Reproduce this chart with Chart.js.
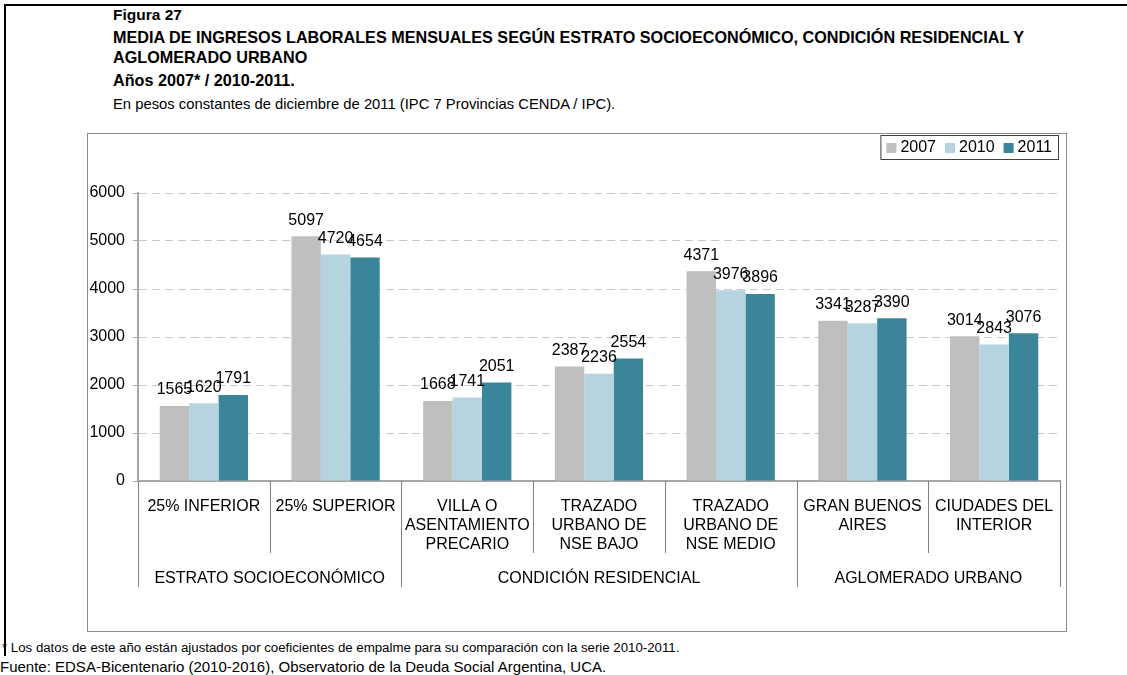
<!DOCTYPE html>
<html>
<head>
<meta charset="utf-8">
<script src="https://cdn.jsdelivr.net/npm/chart.js@4.4.0/dist/chart.umd.min.js"></script>
<style>
  body { margin: 0; background: #fff; font-family: "Liberation Sans", Arial, sans-serif; }
  #page { position: relative; width: 1127px; height: 675px; overflow: hidden; }
  #outline { position: absolute; left: 4px; top: 4px; width: 1200px; height: 650px;
             border-top: 2px solid #000; border-left: 2px solid #000; }
  .t { position: absolute; left: 113px; font-size: 14.8px; line-height: 16px; white-space: nowrap; color: #000; }
  .b { font-weight: bold; font-size: 16.2px; }
  #frame { position: absolute; left: 87px; top: 133px; width: 978px; height: 497px; border: 1px solid #8c8c8c; }
  canvas { display: block; }
</style>
</head>
<body>
<div id="page">
  <div id="outline"></div>
  <div class="t b" style="top:7px; font-size:15.5px">Figura 27</div>
  <div class="t b" style="top:29px">MEDIA DE INGRESOS LABORALES MENSUALES SEGÚN ESTRATO SOCIOECONÓMICO, CONDICIÓN RESIDENCIAL Y</div>
  <div class="t b" style="top:49px">AGLOMERADO URBANO</div>
  <div class="t b" style="top:72px">Años 2007* / 2010-2011.</div>
  <div class="t" style="top:96px">En pesos constantes de diciembre de 2011 (IPC 7 Provincias CENDA / IPC).</div>
  <div id="frame"><canvas id="myChart" width="978" height="497"></canvas></div>
  <div class="t" style="left:2px; top:640px; font-size:13.25px">* Los datos de este año están ajustados por coeficientes de empalme para su comparación con la serie 2010-2011.</div>
  <div class="t" style="left:0px; top:659px; font-size:15px">Fuente: EDSA-Bicentenario (2010-2016), Observatorio de la Deuda Social Argentina, UCA.</div>
</div>

<script>
// categories and values
const categories = [
  ["25% INFERIOR"],
  ["25% SUPERIOR"],
  ["VILLA O", "ASENTAMIENTO", "PRECARIO"],
  ["TRAZADO", "URBANO DE", "NSE BAJO"],
  ["TRAZADO", "URBANO DE", "NSE MEDIO"],
  ["GRAN BUENOS", "AIRES"],
  ["CIUDADES DEL", "INTERIOR"],
];
const groupLabels = ["ESTRATO SOCIOECONÓMICO", "CONDICIÓN RESIDENCIAL", "AGLOMERADO URBANO"];
const groupSizes = [2, 3, 2];

const seriesNames = ["2007", "2010", "2011"];
const values2007 = [1565, 5097, 1668, 2387, 4371, 3341, 3014];
const values2010 = [1620, 4720, 1741, 2236, 3976, 3287, 2843];
const values2011 = [1791, 4654, 2051, 2554, 3896, 3390, 3076];
const seriesColors = ["#bfbfbf", "#b6d4df", "#3a8599"];

const FONT = '"Liberation Sans", Arial, sans-serif';
Chart.defaults.font.family = FONT;
Chart.defaults.color = "#000";

// value labels over the bars
const barLabels = {
  id: "barLabels",
  afterDatasetsDraw(chart) {
    const ctx = chart.ctx;
    ctx.save();
    ctx.font = "16px " + FONT;
    ctx.fillStyle = "#000";
    ctx.textAlign = "center";
    ctx.textBaseline = "middle";
    chart.data.datasets.forEach((ds, i) => {
      chart.getDatasetMeta(i).data.forEach((bar, j) => {
        ctx.fillText(String(ds.data[j]), bar.x, bar.y - 16);
      });
    });
    ctx.restore();
  }
};

// separators under the axis and the group row
const axisGroups = {
  id: "axisGroups",
  afterDraw(chart) {
    const ctx = chart.ctx;
    const x = chart.scales.x;
    const step = x.width / categories.length;
    const y0 = x.top;
    const edges = [0];
    groupSizes.reduce((acc, n) => { edges.push(acc + n); return acc + n; }, 0);

    ctx.save();
    ctx.strokeStyle = "#808080";
    ctx.lineWidth = 1;
    for (let i = 0; i <= categories.length; i++) {
      const px = Math.round(x.left + i * step) + 0.5;
      const tall = edges.includes(i);
      ctx.beginPath();
      ctx.moveTo(px, y0);
      ctx.lineTo(px, y0 + (tall ? 106 : 72));
      ctx.stroke();
    }
    ctx.font = "16px " + FONT;
    ctx.fillStyle = "#000";
    ctx.textAlign = "center";
    ctx.textBaseline = "middle";
    groupLabels.forEach((g, k) => {
      const cx = x.left + (edges[k] + edges[k + 1]) / 2 * step;
      ctx.fillText(g, cx, y0 + 98);
    });
    ctx.restore();
  }
};

// boxed legend top right
const boxLegend = {
  id: "boxLegend",
  afterDraw(chart) {
    const ctx = chart.ctx;
    ctx.save();
    ctx.font = "16px " + FONT;
    const widths = seriesNames.map(s => ctx.measureText(s).width);
    const itemW = widths.map(w => 10 + 4 + w);
    const total = itemW.reduce((a, b) => a + b, 0) + 9 * (seriesNames.length - 1) + 12;
    const right = 970, top = 1, h = 24;
    const left = right - total;
    ctx.strokeStyle = "#404040";
    ctx.lineWidth = 1;
    ctx.strokeRect(left + 0.5, top + 0.5, total, h);
    let cx = left + 6;
    ctx.textBaseline = "middle";
    seriesNames.forEach((s, i) => {
      ctx.fillStyle = seriesColors[i];
      ctx.fillRect(cx, top + 8, 10, 10);
      ctx.fillStyle = "#000";
      ctx.fillText(s, cx + 14, top + 13);
      cx += itemW[i] + 9;
    });
    ctx.restore();
  }
};

const data = {
  labels: categories,
  datasets: [
    { label: seriesNames[0], data: values2007, backgroundColor: seriesColors[0] },
    { label: seriesNames[1], data: values2010, backgroundColor: seriesColors[1] },
    { label: seriesNames[2], data: values2011, backgroundColor: seriesColors[2] },
  ],
};

const config = {
  type: "bar",
  data: data,
  options: {
    responsive: false,
    animation: false,
    categoryPercentage: 0.67,
    barPercentage: 1.0,
    layout: { padding: { top: 59, right: 6, left: 0, bottom: 0 } },
    plugins: {
      legend: { display: false },
      tooltip: { enabled: false },
    },
    scales: {
      x: {
        grid: { display: false },
        border: { color: "#a6a6a6", width: 2 },
        ticks: { font: { size: 16 }, color: "#000", padding: 8, maxRotation: 0, autoSkip: false },
        afterFit(scale) { scale.height = 150; },
      },
      y: {
        min: 0,
        max: 6000,
        ticks: { stepSize: 1000, font: { size: 16 }, color: "#000", padding: 8,
                 callback: (v) => String(v) },
        grid: { color: "#c8c8c8", tickLength: 5, tickColor: "#a6a6a6", tickBorderDash: [] },
        border: { color: "#a6a6a6", width: 2, dash: [8, 5] },
        afterFit(scale) { scale.width = 50; },
      },
    },
  },
  plugins: [barLabels, axisGroups, boxLegend],
};

window.onload = function () {
  const ctx = document.getElementById("myChart");
  new Chart(ctx, config);
};
</script>
</body>
</html>
